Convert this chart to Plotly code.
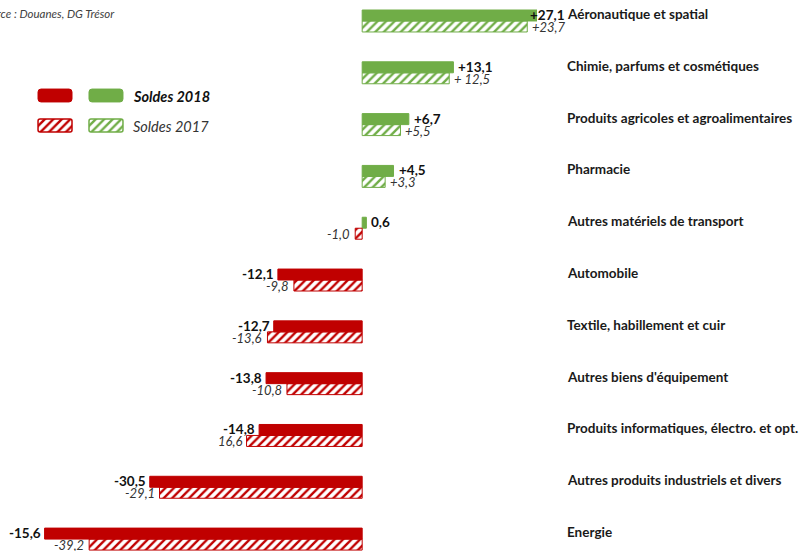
import plotly.graph_objects as go

categories = ["Aéronautique et spatial", "Chimie, parfums et cosmétiques",
              "Produits agricoles et agroalimentaires", "Pharmacie",
              "Autres matériels de transport", "Automobile",
              "Textile, habillement et cuir", "Autres biens d'équipement",
              "Produits informatiques, électro. et opt.",
              "Autres produits industriels et divers", "Energie"]
soldes_2018 = [27.1, 13.1, 6.7, 4.5, 0.6, -12.1, -12.7, -13.8, -14.8, -30.5, -45.6]
soldes_2017 = [23.7, 12.5, 5.5, 3.3, -1.0, -9.8, -13.6, -10.8, -16.6, -29.1, -39.2]
labels_2018 = ["+27,1", "+13,1", "+6,7", "+4,5", "0,6", "-12,1", "-12,7", "-13,8",
               "-14,8", "-30,5", "-15,6"]
labels_2017 = ["+23,7", "+ 12,5", "+5,5", "+3,3", "-1,0", "-9,8", "-13,6", "-10,8",
               "16,6", "-29,1", "-39,2"]

RED = "#C00000"
GREEN = "#70AD47"
XMIN, XMAX = -52.0, 25.1
BW = 0.212
FONT = "Lato, Calibri, Arial, sans-serif"

idx = list(range(len(categories)))
col18 = [GREEN if v >= 0 else RED for v in soldes_2018]
col17 = [GREEN if v >= 0 else RED for v in soldes_2017]

fig = go.Figure()
fig.add_trace(go.Bar(
    y=idx, x=soldes_2018, orientation="h", offset=-BW, width=BW,
    marker=dict(color=col18, line=dict(color=col18, width=1)),
    showlegend=False, hoverinfo="skip"))
fig.add_trace(go.Bar(
    y=idx, x=soldes_2017, orientation="h", offset=0, width=BW,
    marker=dict(color=col17, line=dict(color=col17, width=1),
                pattern=dict(shape="/", fgcolor="white", bgcolor=col17,
                             size=6, solidity=0.4, fillmode="replace")),
    showlegend=False, hoverinfo="skip"))

annotations = []
for i, (v, lab) in enumerate(zip(soldes_2018, labels_2018)):
    xv = min(v, XMAX - 1.7)
    annotations.append(dict(
        x=xv, y=i, xref="x", yref="y", text="<b>%s</b>" % lab, showarrow=False,
        xanchor="left" if v >= 0 else "right", yanchor="middle",
        xshift=3 if v >= 0 else -2, yshift=6,
        font=dict(family=FONT, size=13.5, color="#111111")))
for i, (v, lab) in enumerate(zip(soldes_2017, labels_2017)):
    annotations.append(dict(
        x=v, y=i, xref="x", yref="y", text="<i>%s</i>" % lab, showarrow=False,
        xanchor="left" if v >= 0 else "right", yanchor="middle",
        xshift=3 if v >= 0 else -3, yshift=-6,
        font=dict(family=FONT, size=13, color="#333333")))
for i, c in enumerate(categories):
    annotations.append(dict(
        x=565 / 537, y=i, xref="paper", yref="y", text="<b>%s</b>" % c, showarrow=False,
        xanchor="left", yanchor="middle", yshift=7,
        font=dict(family=FONT, size=13.5, color="#1a1a1a")))

# source
annotations.append(dict(
    x=117 / 537, y=1 - 13 / 551, xref="paper", yref="paper", xanchor="right",
    yanchor="middle", text="<i>Source : Douanes, DG Trésor</i>", showarrow=False,
    font=dict(family=FONT, size=11.5, color="#404040")))

# legend (inset axis)
fig.add_trace(go.Bar(
    y=[0, 0], x=[34, 34], base=[38, 89], orientation="h", width=0.43,
    marker=dict(color=[RED, GREEN], line=dict(color=[RED, GREEN], width=1), cornerradius=3),
    xaxis="x2", yaxis="y2", showlegend=False, hoverinfo="skip"))
fig.add_trace(go.Bar(
    y=[1, 1], x=[34, 34], base=[38, 89], orientation="h", width=0.43,
    marker=dict(color=[RED, GREEN], line=dict(color=[RED, GREEN], width=1.5), cornerradius=2,
                pattern=dict(shape="/", fgcolor="white", bgcolor=[RED, GREEN],
                             size=6, solidity=0.4, fillmode="replace")),
    xaxis="x2", yaxis="y2", showlegend=False, hoverinfo="skip"))
annotations.append(dict(
    x=131 / 537, y=1 - 96 / 551, xref="paper", yref="paper", xanchor="left",
    yanchor="middle", text="<b><i>Soldes 2018</i></b>", showarrow=False,
    font=dict(family=FONT, size=14.5, color="#111111")))
annotations.append(dict(
    x=131 / 537, y=1 - 127 / 551, xref="paper", yref="paper", xanchor="left",
    yanchor="middle", text="<i>Soldes 2017</i>", showarrow=False,
    font=dict(family=FONT, size=14.5, color="#333333")))

fig.update_layout(
    width=803, height=551,
    margin=dict(l=0, r=266, t=0, b=0),
    paper_bgcolor="white", plot_bgcolor="white",
    barmode="overlay",
    xaxis=dict(range=[XMIN, XMAX], visible=False, fixedrange=True),
    yaxis=dict(range=[10.23, -0.405], visible=False, fixedrange=True),
    xaxis2=dict(domain=[38 / 537 - 0.01, 123 / 537 + 0.01], range=[32.6, 128.4],
                visible=False, anchor="y2"),
    yaxis2=dict(domain=[1 - 140.5 / 551, 1 - 80.5 / 551], range=[1.5, -0.5],
                visible=False, anchor="x2"),
    annotations=annotations,
    showlegend=False,
)

fig.write_html("out.html")
